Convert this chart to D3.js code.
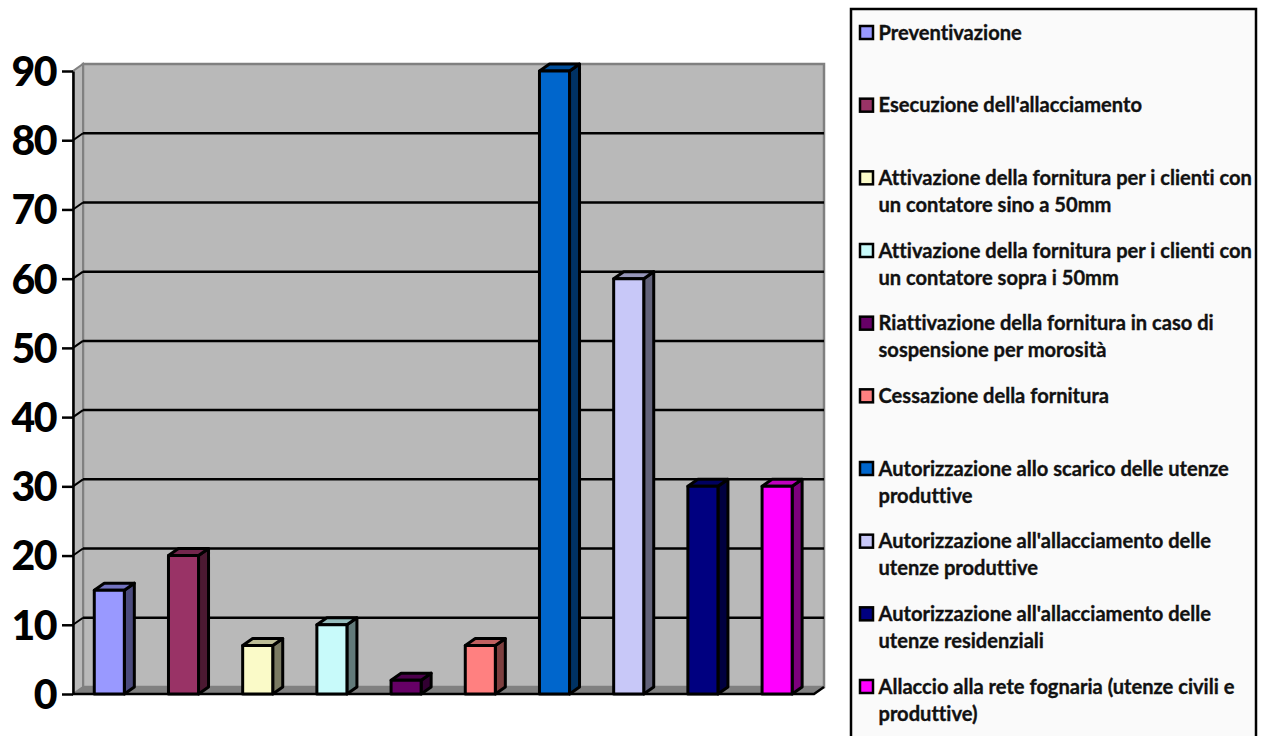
<!DOCTYPE html>
<html>

<head>
    <meta charset="utf-8">
    <style>
        html, body {
            margin: 0;
            padding: 0;
            background: #fff;
            overflow: hidden;
        }

        svg {
            display: block;
            font-family: Lato, sans-serif;
            font-weight: 700;
            font-variant-ligatures: none;
        }

        .y .domain {
            stroke: #000;
            stroke-width: 2.5px;
        }

        .y .tick line {
            stroke: #000;
            stroke-width: 2.5px;
        }

        .y .tick text {
            font-size: 41px;
            font-weight: 900;
            letter-spacing: -1.5px;
            fill: #000;
            font-family: Lato, sans-serif;
        }

        .legend-label {
            font-size: 20.1px;
            fill: #111;
            stroke: #111;
            stroke-width: 0.35px;
        }
    </style>
</head>

<body>
    <svg width="1269" height="736"></svg>

    <script src="https://d3js.org/d3.v7.min.js"></script>
    <script>
        // data
        const categories = [
            "Preventivazione",
            "Esecuzione dell'allacciamento",
            "Attivazione della fornitura per i clienti con|un contatore sino a 50mm",
            "Attivazione della fornitura per i clienti con|un contatore sopra i 50mm",
            "Riattivazione della fornitura in caso di|sospensione per morosità",
            "Cessazione della fornitura",
            "Autorizzazione allo scarico delle utenze|produttive",
            "Autorizzazione all'allacciamento delle|utenze produttive",
            "Autorizzazione all'allacciamento delle|utenze residenziali",
            "Allaccio alla rete fognaria (utenze civili e|produttive)"
        ];
        const values = [15, 20, 7, 10, 2, 7, 90, 60, 30, 30];
        const colors = ["#9999ff", "#993366", "#fafac8", "#c8fafa", "#660066",
            "#ff8080", "#0066cc", "#c8c8f8", "#000080", "#ff00ff"];
        const yTicks = [0, 10, 20, 30, 40, 50, 60, 70, 80, 90];

        const svg = d3.select("svg");

        // front plane of the fake 3d box + how far the back wall is shifted
        const plot = { left: 73, right: 814, top: 71, bottom: 694 };
        const depth = { x: 10, y: 7 };

        const x = d3.scaleBand()
            .domain(categories)
            .range([plot.left - 0.8, plot.right + 0.2])
            .paddingInner(0.595)
            .paddingOuter(0.2975);

        const y = d3.scaleLinear()
            .domain([0, 90])
            .range([plot.bottom, plot.top]);

        // back wall
        svg.append("rect")
            .attr("x", plot.left + depth.x)
            .attr("y", y(90) - depth.y)
            .attr("width", plot.right - plot.left)
            .attr("height", y(0) - y(90))
            .attr("fill", "#b9b9b9")
            .attr("stroke", "#808080")
            .attr("stroke-width", 2.5);

        // side wall
        svg.append("polygon")
            .attr("points", [
                [plot.left, y(90)],
                [plot.left + depth.x, y(90) - depth.y],
                [plot.left + depth.x, y(0) - depth.y],
                [plot.left, y(0)]
            ].join(" "))
            .attr("fill", "#b9b9b9")
            .attr("stroke", "#808080")
            .attr("stroke-width", 2);

        // floor
        svg.append("polygon")
            .attr("points", [
                [plot.left, y(0)],
                [plot.left + depth.x, y(0) - depth.y],
                [plot.right + depth.x, y(0) - depth.y],
                [plot.right, y(0)]
            ].join(" "))
            .attr("fill", "#808080");

        // gridlines on the back wall and the little diagonal on the side
        let grid = svg.append("g").attr("class", "grid")
            .selectAll("g")
            .data(yTicks.filter(d => d > 0 && d < 90))
            .join("g");

        grid.append("line")
            .attr("x1", plot.left + depth.x)
            .attr("x2", plot.right + depth.x)
            .attr("y1", d => y(d) - depth.y)
            .attr("y2", d => y(d) - depth.y)
            .attr("stroke", "#000")
            .attr("stroke-width", 2.5);

        grid.append("line")
            .attr("x1", plot.left)
            .attr("x2", plot.left + depth.x)
            .attr("y1", d => y(d))
            .attr("y2", d => y(d) - depth.y)
            .attr("stroke", "#000")
            .attr("stroke-width", 2);

        // floor front edge
        svg.append("path")
            .attr("d", `M${plot.left},${y(0)}H${plot.right}L${plot.right + depth.x},${y(0) - depth.y}`)
            .attr("fill", "none")
            .attr("stroke", "#000")
            .attr("stroke-width", 2.5);

        let yAxisSettings = d3.axisLeft(y)
            .tickValues(yTicks)
            .tickSize(11)
            .tickSizeOuter(0)
            .tickPadding(6);

        svg.append("g")
            .attr("class", "y axis")
            .attr("transform", `translate(${plot.left},0)`)
            .call(yAxisSettings)
            .selectAll(".tick text")
            .attr("dy", "0.35em");

        // bars: front, top, side
        let bars = svg.append("g")
            .selectAll("g")
            .data(categories.map((c, i) => ({ c: c, value: values[i], color: colors[i] })))
            .join("g")
            .attr("stroke", "#000")
            .attr("stroke-width", 3)
            .attr("stroke-linejoin", "round");

        bars.append("polygon")
            .attr("points", d => {
                let x1 = x(d.c) + x.bandwidth();
                return [[x1, y(d.value)], [x1 + depth.x, y(d.value) - depth.y],
                    [x1 + depth.x, y(0) - depth.y], [x1, y(0)]].join(" ");
            })
            .attr("fill", d => d3.rgb(d.color).darker(2).formatHex());

        bars.append("polygon")
            .attr("points", d => {
                let x0 = x(d.c), x1 = x0 + x.bandwidth();
                return [[x0, y(d.value)], [x0 + depth.x, y(d.value) - depth.y],
                    [x1 + depth.x, y(d.value) - depth.y], [x1, y(d.value)]].join(" ");
            })
            .attr("fill", d => d3.rgb(d.color).darker(0.8).formatHex());

        bars.append("rect")
            .attr("x", d => x(d.c))
            .attr("y", d => y(d.value))
            .attr("width", x.bandwidth())
            .attr("height", d => y(0) - y(d.value))
            .attr("fill", d => d.color);

        // legend
        svg.append("rect")
            .attr("x", 851)
            .attr("y", 9)
            .attr("width", 405)
            .attr("height", 740)
            .attr("fill", "#fafafa")
            .attr("stroke", "#000")
            .attr("stroke-width", 2.5);

        let legendY = d3.scalePoint()
            .domain(categories)
            .range([33, 687]);

        let legend = svg.append("g")
            .selectAll("g")
            .data(categories.map((c, i) => ({ lines: c.split("|"), color: colors[i], c: c })))
            .join("g")
            .attr("transform", d => `translate(860,${legendY(d.c)})`);

        legend.append("rect")
            .attr("x", 0)
            .attr("y", -7)
            .attr("width", 13)
            .attr("height", 13)
            .attr("fill", d => d.color)
            .attr("stroke", "#000")
            .attr("stroke-width", 2.5);

        legend.selectAll("text")
            .data(d => d.lines)
            .join("text")
            .attr("class", "legend-label")
            .attr("x", 18.5)
            .attr("y", (d, i) => 6.5 + i * 27)
            .text(d => d);
    </script>
</body>

</html>
